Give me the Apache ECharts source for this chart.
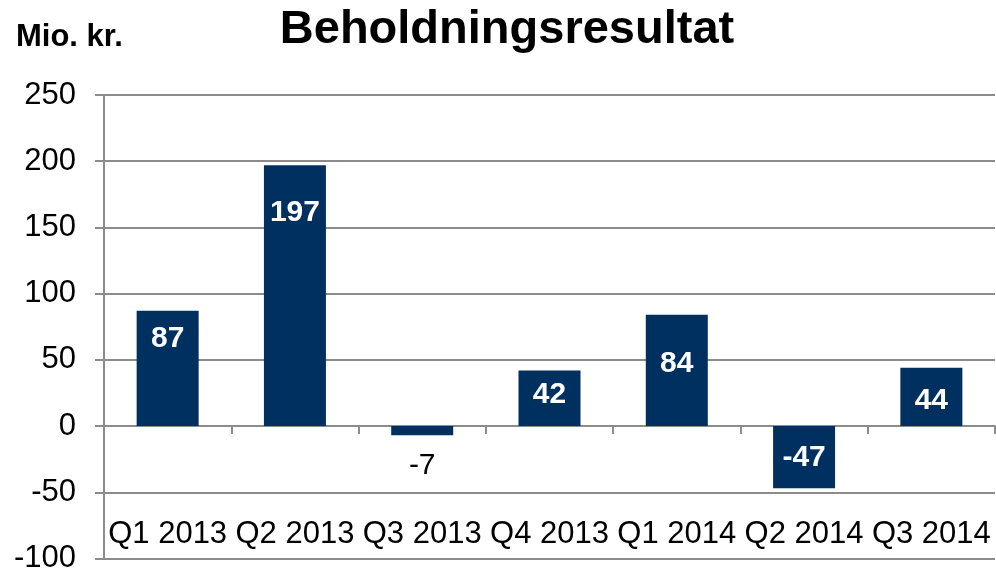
<!DOCTYPE html>
<html>
<head>
<meta charset="utf-8">
<script src="https://cdn.jsdelivr.net/npm/echarts@6/dist/echarts.min.js"></script>
<style>
  html, body { margin: 0; padding: 0; background: #fff; }
  #chart { width: 996px; height: 574px; }
</style>
</head>
<body>
<div id="chart"></div>
<script type="text/javascript">
  // Beholdningsresultat, Mio. kr.
  var quarters = ['Q1 2013', 'Q2 2013', 'Q3 2013', 'Q4 2013', 'Q1 2014', 'Q2 2014', 'Q3 2014'];
  var results = [87, 197, -7, 42, 84, -47, 44];

  // label nudges (px) so the numbers sit where the original put them
  var labelNudge = [-30, -83, 0, -4, -7, 1, 4];

  var font = "'Liberation Sans', Arial, sans-serif";
  var gridColor = '#8c8c8c';

  var myChart = echarts.init(document.getElementById('chart'));

  var barData = results.map(function (v, i) {
    if (v < 0 && v > -20) {
      // small negative bar: label sits under it in plain black
      return {
        value: v,
        label: { position: 'bottom', distance: 15, color: '#000', fontWeight: 'normal' },
      };
    }
    return { value: v, label: { offset: [0, labelNudge[i]] } };
  });

  var option = {
    animation: false,
    title: [
      {
        text: 'Beholdningsresultat',
        left: 502,
        top: 2,
        textAlign: 'center',
        textStyle: { fontFamily: font, fontSize: 47, fontWeight: 'bold', color: '#000' },
      },
      {
        text: 'Mio. kr.',
        left: 16,
        top: 22,
        padding: 0,
        textStyle: { fontFamily: font, fontSize: 31, fontWeight: 'bold', color: '#000' },
      },
    ],
    grid: { left: 104, right: 1, top: 95, bottom: 11 },
    xAxis: [
      {
        type: 'category',
        data: quarters,
        axisLine: { onZero: true, lineStyle: { color: gridColor, width: 2 } },
        axisTick: { show: true, length: 8, lineStyle: { color: gridColor, width: 2 } },
        axisLabel: { show: false },
      },
      {
        type: 'category',
        data: quarters,
        position: 'bottom',
        axisLine: { show: false },
        axisTick: { show: false },
        axisLabel: {
          inside: true,
          interval: 0,
          hideOverlap: false,
          margin: 9,
          fontFamily: font,
          fontSize: 31,
          color: '#000',
        },
      },
    ],
    yAxis: {
      type: 'value',
      min: -100,
      max: 250,
      interval: 50,
      axisLine: { show: true, lineStyle: { color: gridColor, width: 2 } },
      axisTick: { show: true, length: 9, lineStyle: { color: gridColor, width: 2 } },
      axisLabel: { margin: 28, fontFamily: font, fontSize: 31, color: '#000' },
      splitLine: { show: true, lineStyle: { color: gridColor, width: 2 } },
    },
    series: [
      {
        name: 'Beholdningsresultat',
        type: 'bar',
        xAxisIndex: 0,
        barWidth: 62,
        itemStyle: { color: '#00305f' },
        label: {
          show: true,
          position: 'inside',
          fontFamily: font,
          fontSize: 30,
          fontWeight: 'bold',
          color: '#fff',
        },
        data: barData,
      },
    ],
  };

  myChart.setOption(option);

  window.onresize = function () {
    myChart.resize();
  };
</script>
</body>
</html>
